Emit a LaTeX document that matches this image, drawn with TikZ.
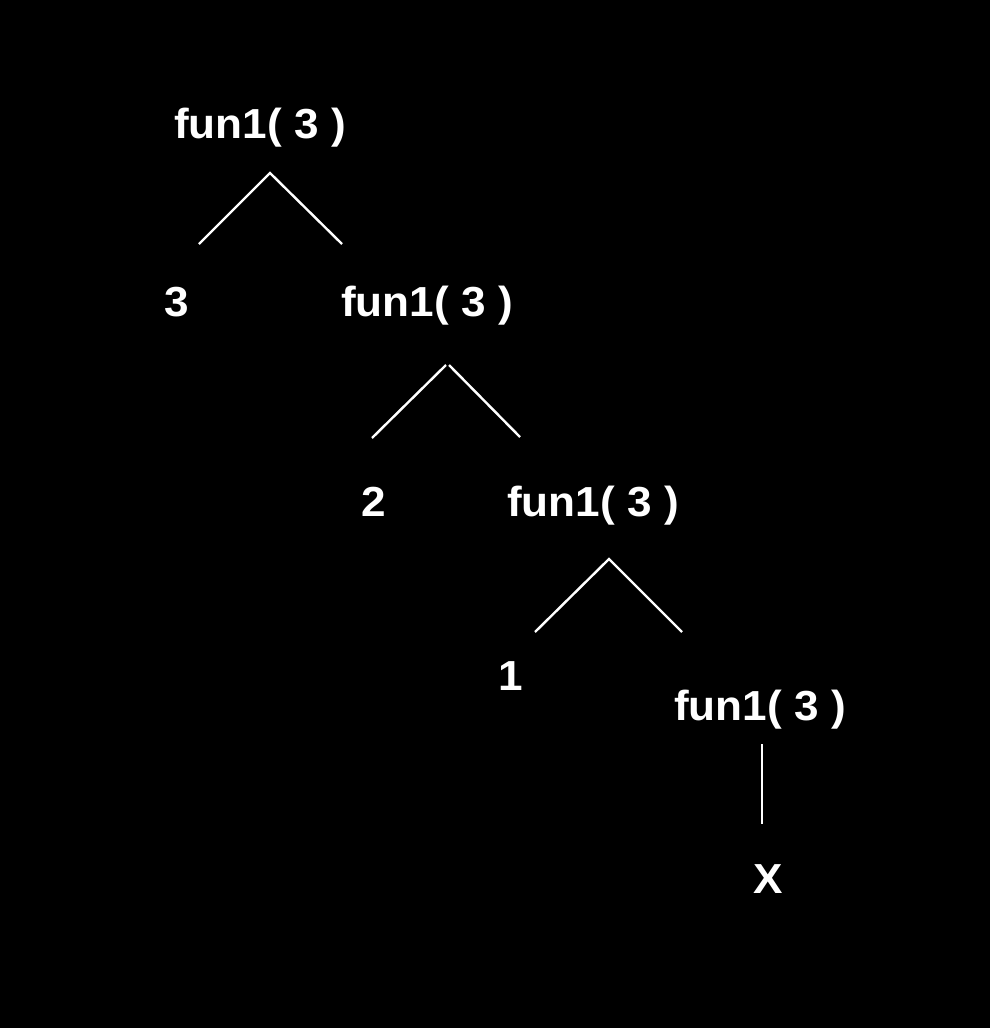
\documentclass[tikz,border=0pt]{standalone}
\usepackage{fontspec}
\setmainfont{Liberation Sans}[FakeStretch=1.05]
\begin{document}
\begin{tikzpicture}[x=1pt,y=-1pt,
  lbl/.style={text=white,font=\fontsize{42}{42}\selectfont\bfseries,inner sep=0pt,anchor=base},
  edge/.style={draw=white,line width=2.4pt}]
\fill[black] (0,0) rectangle (990,1028);
\useasboundingbox (0,0) rectangle (990,1028);
\node[lbl] (f1) at (260,138) {fun1( 3 )};
\node[lbl] (n3) at (177,316) {3};
\node[lbl] (f2) at (427,316) {fun1( 3 )};
\node[lbl] (n2) at (374,516) {2};
\node[lbl] (f3) at (593,516) {fun1( 3 )};
\node[lbl] (n1) at (511,690) {1};
\node[lbl] (f4) at (760,720) {fun1( 3 )};
\node[lbl] (nx) at (768,893) {X};
\coordinate (a1) at (270,173);
\coordinate (a1l) at (199,244);
\coordinate (a1r) at (342,244);
\coordinate (a2l0) at (446,365);
\coordinate (a2r0) at (449,365);
\coordinate (a2l) at (372,438);
\coordinate (a2r) at (520,437);
\coordinate (a3) at (609,559);
\coordinate (a3l) at (535,632);
\coordinate (a3r) at (682,632);
\coordinate (a4t) at (762,744);
\coordinate (a4b) at (762,824);
\draw[edge] (a1l) -- (a1) -- (a1r);
\draw[edge] (a2l) -- (a2l0);
\draw[edge] (a2r0) -- (a2r);
\draw[edge] (a3l) -- (a3) -- (a3r);
\draw[edge] (a4t) -- (a4b);
\end{tikzpicture}
\end{document}
